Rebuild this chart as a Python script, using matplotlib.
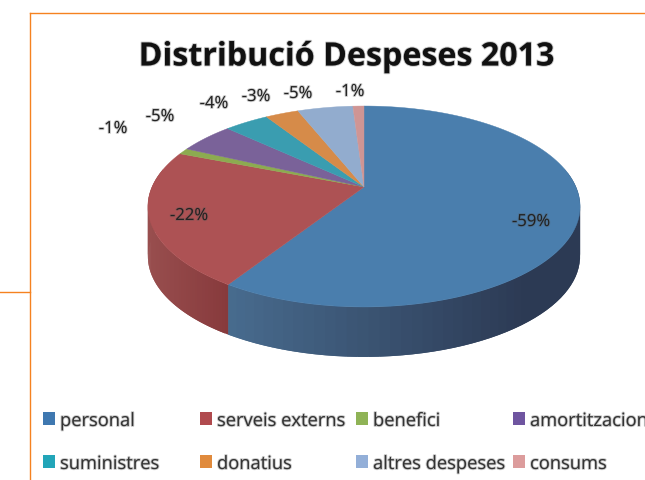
import numpy as np
import matplotlib
matplotlib.use('Agg')
import matplotlib.pyplot as plt
import matplotlib.patheffects as pe

# categories and values
categories = ['personal', 'serveis externs', 'benefici', 'amortitzacions',
              'suministres', 'donatius', 'altres despeses', 'consums']
values = [59, 22, 1, 5, 4, 3, 5, 1]
colors = ['#4a7ead', '#ad5254', '#8cab50', '#7a6299',
          '#3a9db0', '#d68b49', '#92acce', '#cf9594']
legend_colors = ['#3f78b0', '#b04a4e', '#8fb356', '#6f55a0',
                 '#22a5b8', '#e08a3c', '#93afd8', '#dc9c9c']

# where the percent labels sit (pixels)
label_x = [531, 189, 113, 160, 214, 256, 298, 350]
label_y = [223, 217, 130, 118, 105, 98, 95, 93]

# pie in perspective, pixel units
cx, cy = 364, 188
rx, h, k = 212, 96.7, 0.194
depth = 50

# soft edge on text, the reference is a blurry scan
soft = [pe.withStroke(linewidth=1.4, foreground='#555555', alpha=0.3)]


def project(t):
    # t is clockwise from the top, in radians
    w = 1 + k * np.cos(t)
    return cx + rx * np.sin(t) / w, cy - h * np.cos(t) / w


def side_color(x, color):
    # shade the side wall, darker towards the right
    if color == colors[0]:
        f = np.clip((x - 228) / 300, 0, 1)
        return np.array([72, 108, 143]) * (1 - f) + np.array([44, 58, 84]) * f
    f = np.clip((x - 150) / 80, 0, 1)
    return np.array([152, 78, 78]) * (1 - f) + np.array([135, 58, 60]) * f


fig = plt.figure(figsize=(6.45, 4.81), dpi=100)
ax = fig.add_axes([0, 0, 1, 1])
ax.set_xlim(0, 645)
ax.set_ylim(481, 0)
ax.axis('off')

# orange frame lines
ax.plot([30, 645], [14, 14], color='#f58220', lw=1)
ax.plot([30, 30], [14, 481], color='#f58220', lw=1)
ax.plot([0, 30], [293, 293], color='#f58220', lw=1)

edges = np.cumsum([0] + values) / sum(values) * 2 * np.pi

# side wall first, only the front slices show
for i in range(2):
    ts = np.linspace(edges[i], edges[i + 1], 90)
    if i == 0:
        ts = ts[ts > np.pi / 2 - 0.2]
    else:
        ts = ts[ts < 3 * np.pi / 2 + 0.2]
    for j in range(len(ts) - 1):
        # strips overlap a little so no seams show
        a, b = ts[j], ts[min(j + 2, len(ts) - 1)]
        xa, ya = project(a)
        xb, yb = project(b)
        c = side_color(xa, colors[i]) / 255
        ax.fill([xa, xb, xb, xa], [ya, yb, yb + depth, ya + depth],
                color=c, lw=0, zorder=2)

# top faces
for i, v in enumerate(values):
    ts = np.linspace(edges[i], edges[i + 1], 120)
    xs, ys = project(ts)
    ax.fill(np.r_[cx, xs], np.r_[cy, ys], color=colors[i], lw=0.3, zorder=3)

# percent labels
for i, v in enumerate(values):
    ax.text(label_x[i], label_y[i], '-%d%%' % v, ha='center', va='center',
            family='Open Sans', fontsize=12, color='#222222', zorder=4,
            path_effects=soft)

ax.text(347, 58, 'Distribució Despeses 2013', ha='center', va='center',
        family='Open Sans', fontweight='bold', fontsize=23.2, color='#111111',
        path_effects=soft)

# legend, two rows of four
col_x = [43, 200, 356, 513]
row_y = [420, 463]
for i, name in enumerate(categories):
    x = col_x[i % 4]
    y = row_y[i // 4]
    ax.fill([x, x + 12, x + 12, x], [y - 7, y - 7, y + 6, y + 6],
            color=legend_colors[i], lw=0)
    ax.text(x + 17, y + 2, name, ha='left', va='center', family='Open Sans',
            fontsize=13.2, color='#333333', path_effects=soft)

fig.savefig('out.png', dpi=100)
